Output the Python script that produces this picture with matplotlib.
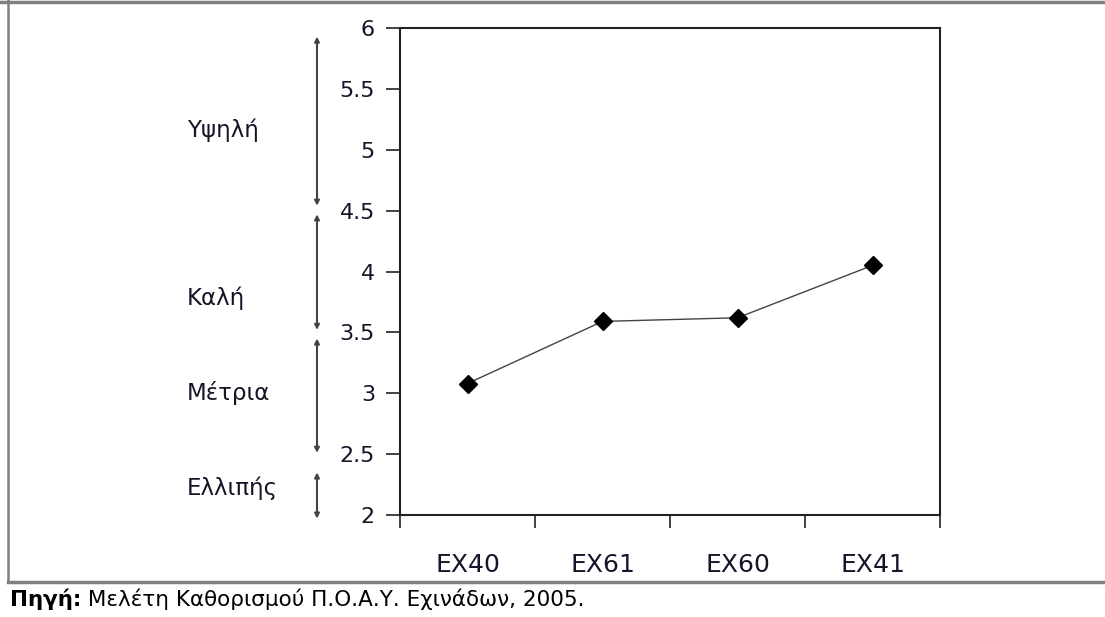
import matplotlib
matplotlib.use("Agg")
import matplotlib.pyplot as plt
from matplotlib.lines import Line2D

# ---- data ----
categories = ["EX40", "EX61", "EX60", "EX41"]
values = [3.08, 3.59, 3.62, 4.05]
y_ticks = [2, 2.5, 3, 3.5, 4, 4.5, 5, 5.5, 6]
y_tick_labels = ["2", "2.5", "3", "3.5", "4", "4.5", "5", "5.5", "6"]
band_labels = ["Υψηλή", "Καλή", "Μέτρια", "Ελλιπής"]
band_low = [4.54, 3.52, 2.51, 1.97]
band_high = [5.93, 4.47, 3.45, 2.35]
band_label_y = [5.16, 3.78, 3.0, 2.22]
source_bold = "Πηγή:"
source_text = " Μελέτη Καθορισμού Π.Ο.Α.Υ. Εχινάδων, 2005."

plt.rcParams['font.family'] = ['DejaVu Sans']

W, H = 1105, 617
fig = plt.figure(figsize=(W / 100, H / 100), dpi=100)
fig.patch.set_facecolor("white")

ax = fig.add_axes([400 / W, 1 - 515 / H, 540 / W, 487 / H])
n = len(categories)
xs = [i + 0.5 for i in range(n)]
ax.plot(xs, values, color="#444444", lw=1.0, marker="D", markersize=9,
        markerfacecolor="black", markeredgecolor="black", zorder=3)

ax.set_xlim(0, n)
ax.set_ylim(2, 6)
ax.set_yticks(y_ticks)
ax.set_yticklabels(y_tick_labels)
ax.set_xticks(range(n + 1))
ax.set_xticklabels([""] * (n + 1))
ax.set_xticks(xs, minor=True)
ax.set_xticklabels(categories, minor=True)

txt_color = "#15152a"
ax.tick_params(axis="y", which="major", direction="out", length=10, width=1.2,
               pad=8, labelsize=16, labelcolor=txt_color, color="#222222")
ax.tick_params(axis="x", which="major", direction="out", length=9, width=1.2,
               color="#222222")
ax.tick_params(axis="x", which="minor", length=0, pad=27, labelsize=18,
               labelcolor=txt_color)
for s in ax.spines.values():
    s.set_linewidth(1.5)
    s.set_color("#222222")

# rating bands on the left
arrow_x = 317 / W
label_x = 187 / W
for lab, lo, hi, ly in zip(band_labels, band_low, band_high, band_label_y):
    ax.annotate("", xy=(arrow_x, hi), xytext=(arrow_x, lo),
                xycoords=("figure fraction", "data"),
                textcoords=("figure fraction", "data"),
                arrowprops=dict(arrowstyle="<|-|>", mutation_scale=7,
                                color="#444444", lw=1.5, shrinkA=0, shrinkB=0),
                annotation_clip=False)
    ax.annotate(lab, xy=(label_x, ly), xycoords=("figure fraction", "data"),
                ha="left", va="center", fontsize=16.5, color=txt_color,
                annotation_clip=False)

# frame lines
grey = "#808080"
fig.add_artist(Line2D([0, 1], [1 - 1.5 / H, 1 - 1.5 / H], color=grey, lw=2.5))
fig.add_artist(Line2D([8 / W, 8 / W], [1, 1 - 582 / H], color=grey, lw=1.8))
fig.add_artist(Line2D([8 / W, 1], [1 - 582 / H, 1 - 582 / H], color=grey, lw=2.5))

# source line
t1 = fig.text(10 / W, 1 - 599 / H, source_bold, fontsize=15.5, fontweight="bold",
              ha="left", va="center", color="black")
fig.canvas.draw()
bb = t1.get_window_extent()
fig.text(bb.x1 / W, 1 - 599 / H, source_text, fontsize=15.5,
         ha="left", va="center", color="black")

fig.savefig("out.png", dpi=100)
